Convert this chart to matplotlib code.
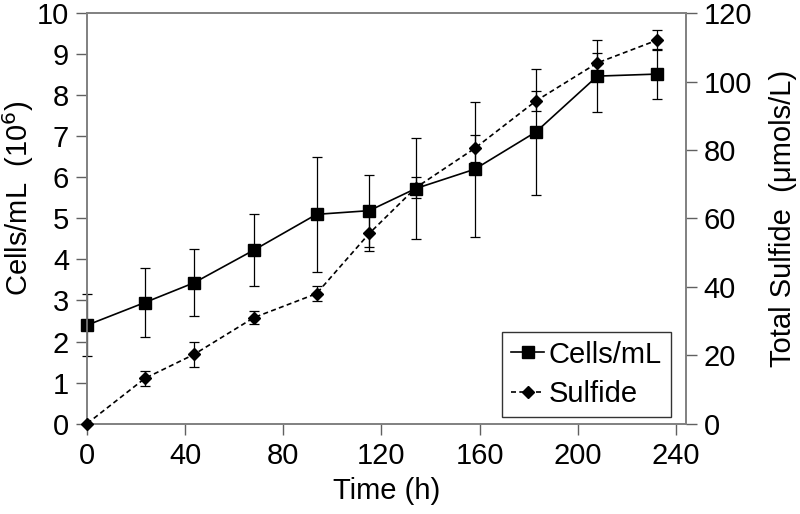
import matplotlib
matplotlib.use("Agg")
import matplotlib.pyplot as plt

# values
time_h = [0, 23.5, 43.5, 68, 93.5, 115, 134, 158, 183, 208, 232.5]
cells = [2.40, 2.95, 3.43, 4.23, 5.10, 5.19, 5.73, 6.20, 7.11, 8.47, 8.52]
cells_err = [0.75, 0.83, 0.82, 0.87, 1.40, 0.88, 1.23, 1.65, 1.53, 0.88, 0.60]
sulfide = [0.0, 13.2, 20.2, 31.0, 38.0, 55.6, 69.0, 80.5, 94.4, 105.5, 112.2]
sulfide_err = [0.0, 2.2, 3.7, 2.0, 2.2, 5.0, 3.0, 4.0, 3.0, 3.0, 3.0]

xticks = [0, 40, 80, 120, 160, 200, 240]

plt.rcParams["font.family"] = ["Liberation Sans Narrow", "Liberation Sans", "DejaVu Sans"]
plt.rcParams["font.size"] = 21

fig = plt.figure(figsize=(8, 5.14), dpi=100)
ax = fig.add_axes([0.109, 0.176, 0.748, 0.798])
ax2 = ax.twinx()

l1 = ax.errorbar(time_h, cells, yerr=cells_err, color="black", marker="s", ms=9,
                 lw=1.2, elinewidth=0.9, capsize=3.5, capthick=0.9,
                 clip_on=False, zorder=3)
l2 = ax2.errorbar(time_h, sulfide, yerr=sulfide_err, color="black", marker="D", ms=6,
                  lw=1.2, ls=(0, (3, 2)), elinewidth=0.9, capsize=3.5, capthick=0.9,
                  clip_on=False, zorder=3)

ax.set_xlim(0, 244)
ax.set_ylim(0, 10)
ax2.set_ylim(0, 120)
ax.set_xticks(xticks)
ax.set_yticks(range(0, 11))
ax2.set_yticks(range(0, 121, 20))

for a in (ax, ax2):
    for s in a.spines.values():
        s.set_color("#808080")
        s.set_linewidth(1.2)
    a.tick_params(direction="out", length=8, width=1.0, color="#606060", pad=5)
ax.tick_params(axis="x", pad=5)

ax.set_xlabel("Time (h)", labelpad=5)
ax.set_ylabel("Cells/mL  (10$^6$)")
ax.yaxis.set_label_coords(-0.085, 0.55)
ax2.set_ylabel("Total Sulfide  (\u03bcmols/L)", labelpad=12)

leg = ax2.legend([l1[0], l2[0]], ["Cells/mL", "Sulfide"], loc="lower right",
                 bbox_to_anchor=(0.975, 0.016), frameon=True, fancybox=False,
                 handlelength=1.15, handletextpad=0.15, borderpad=0.3,
                 labelspacing=0.4, borderaxespad=0)
leg.get_frame().set_edgecolor("black")
leg.get_frame().set_linewidth(1.0)

fig.savefig("out.png", dpi=100)
